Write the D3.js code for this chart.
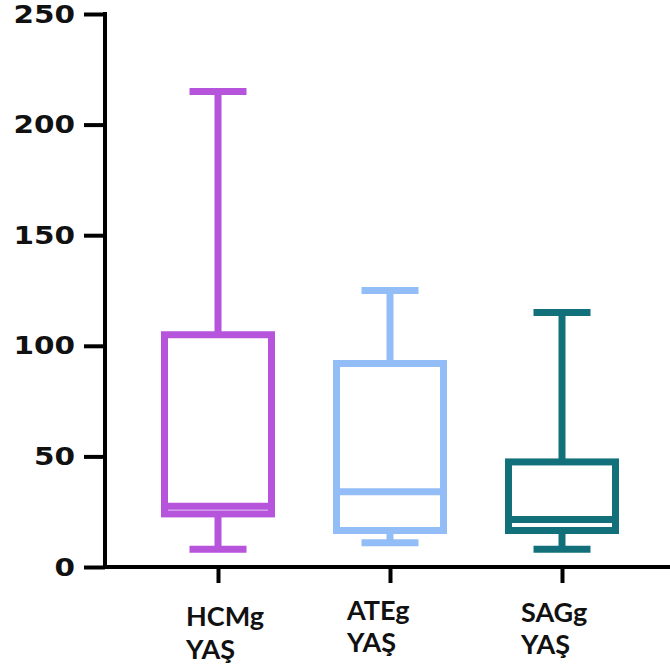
<!DOCTYPE html>
<html>
<head>
<meta charset="utf-8">
<script src="https://cdn.jsdelivr.net/npm/d3@7"></script>
<style>
  html, body { margin: 0; padding: 0; background: #fff; }
  svg { display: block; }
</style>
</head>
<body>
<svg id="chart" width="670" height="667"></svg>
<script>
// values
const categories = ['HCMg', 'ATEg', 'SAGg']
const labelLines = [['HCMg', 'YAŞ'], ['ATEg', 'YAŞ'], ['SAGg', 'YAŞ']]
const whiskerLow = [8, 11, 8]
const q1 = [24, 16.5, 16.5]
const median = [27.5, 34, 21.5]
const q3 = [105, 92, 47.5]
const whiskerHigh = [215, 125, 115]
const yTicks = [0, 50, 100, 150, 200, 250]
const colors = ['#b655dc', '#93bdf7', '#12707b']

const svg = d3.select('#chart')
const axisX = 105
const baseY = 567

const y = d3.scaleLinear().domain([0, 250]).range([baseY, 14])
const x = d3.scalePoint().domain(categories).range([132, 648]).padding(0.5)

const boxW = 107
const capW = 57
const lw = 7

// y axis
const yAxis = svg.append('g')
  .attr('transform', 'translate(' + axisX + ',0)')
  .call(d3.axisLeft(y).tickValues(yTicks).tickSize(21).tickPadding(9).tickSizeOuter(0))
yAxis.select('.domain').remove()
yAxis.selectAll('.tick line').attr('stroke', '#000').attr('stroke-width', 4)
// the original digits are drawn a bit wide, so stretch them a little
yAxis.selectAll('.tick text')
  .attr('fill', '#111')
  .style('font-family', '"DejaVu Sans", "Liberation Sans", sans-serif')
  .style('font-weight', 'bold')
  .style('font-size', '25px')
  .attr('textLength', d => String(d).length * 20.5)
  .attr('lengthAdjust', 'spacingAndGlyphs')
svg.append('line')
  .attr('x1', axisX).attr('x2', axisX)
  .attr('y1', y(250) - 2).attr('y2', baseY + 2)
  .attr('stroke', '#000').attr('stroke-width', 4)

// x axis
const xAxis = svg.append('g')
  .attr('transform', 'translate(0,' + baseY + ')')
  .call(d3.axisBottom(x).tickSize(16).tickFormat(''))
xAxis.select('.domain').remove()
xAxis.selectAll('.tick line').attr('stroke', '#000').attr('stroke-width', 4)
svg.append('line')
  .attr('x1', axisX - 2).attr('x2', 670)
  .attr('y1', baseY).attr('y2', baseY)
  .attr('stroke', '#000').attr('stroke-width', 4)

// boxes
const boxes = svg.append('g').selectAll('g')
  .data(categories)
  .join('g')
  .attr('stroke', (d, i) => colors[i])
  .attr('stroke-width', lw)
  .attr('fill', 'none')

boxes.append('line') // upper whisker
  .attr('x1', d => x(d)).attr('x2', d => x(d))
  .attr('y1', (d, i) => y(whiskerHigh[i])).attr('y2', (d, i) => y(q3[i]))
boxes.append('line') // lower whisker
  .attr('x1', d => x(d)).attr('x2', d => x(d))
  .attr('y1', (d, i) => y(whiskerLow[i])).attr('y2', (d, i) => y(q1[i]))
boxes.append('line') // top cap
  .attr('x1', d => x(d) - capW / 2).attr('x2', d => x(d) + capW / 2)
  .attr('y1', (d, i) => y(whiskerHigh[i])).attr('y2', (d, i) => y(whiskerHigh[i]))
boxes.append('line') // bottom cap
  .attr('x1', d => x(d) - capW / 2).attr('x2', d => x(d) + capW / 2)
  .attr('y1', (d, i) => y(whiskerLow[i])).attr('y2', (d, i) => y(whiskerLow[i]))
boxes.append('rect')
  .attr('x', d => x(d) - boxW / 2)
  .attr('width', boxW)
  .attr('y', (d, i) => y(q3[i]))
  .attr('height', (d, i) => y(q1[i]) - y(q3[i]))
  .attr('fill', '#fff')
boxes.append('line') // median
  .attr('x1', d => x(d) - boxW / 2).attr('x2', d => x(d) + boxW / 2)
  .attr('y1', (d, i) => y(median[i])).attr('y2', (d, i) => y(median[i]))

// category labels, placed loosely like the original
const labelPos = [[186, 626, 659], [347, 620, 652], [521, 622, 654]]
const labels = svg.append('g')
  .style('font-family', 'Lato, "Open Sans", sans-serif')
  .style('font-weight', 'bold')
  .style('font-size', '27px')
  .attr('fill', '#111')
labelLines.forEach((lines, i) => {
  lines.forEach((t, j) => {
    labels.append('text')
      .attr('x', labelPos[i][0])
      .attr('y', labelPos[i][j + 1])
      .text(t)
  })
})
</script>
</body>
</html>
